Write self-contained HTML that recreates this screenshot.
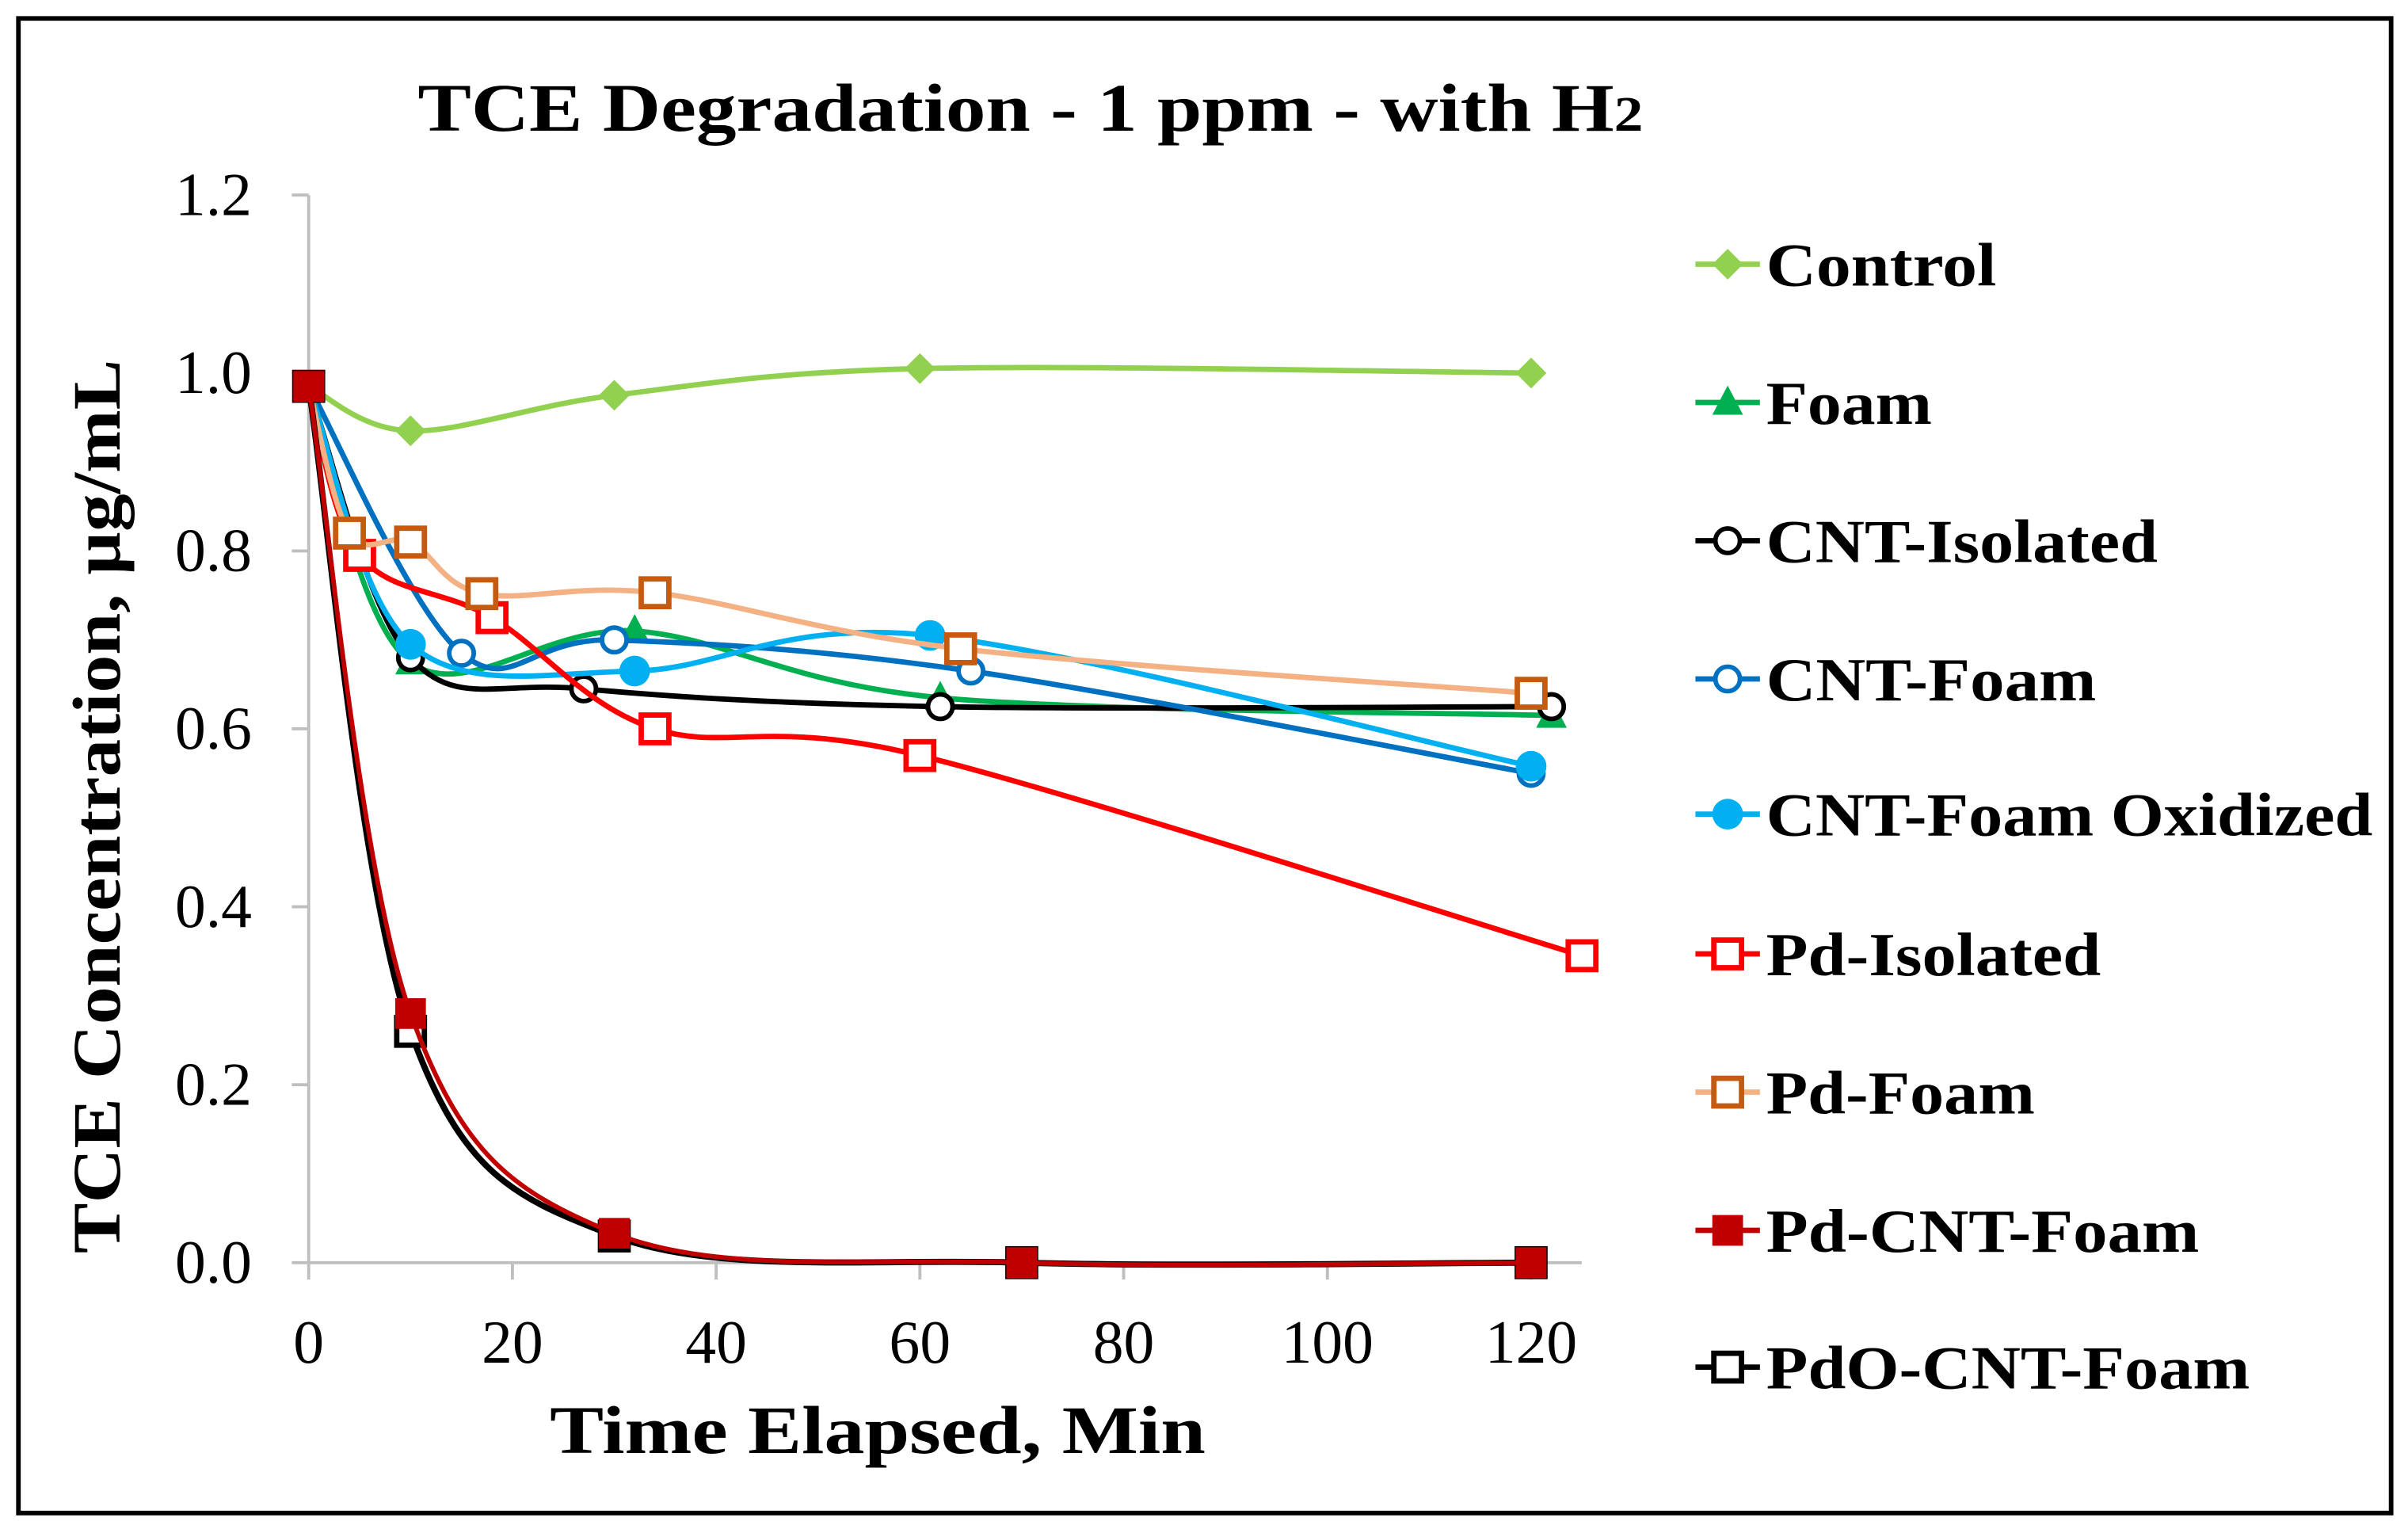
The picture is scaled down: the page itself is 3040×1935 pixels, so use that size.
<!DOCTYPE html>
<html><head><meta charset="utf-8"><style>
html,body{margin:0;padding:0;background:#fff}
svg{display:block}
text{font-family:"Liberation Serif",serif}
</style></head><body>
<svg id="chart" width="3040" height="1935" viewBox="0 0 1568 998" preserveAspectRatio="none" xmlns="http://www.w3.org/2000/svg">
<rect x="12" y="12" width="1545" height="973" fill="#fff" stroke="#000" stroke-width="3"/>
<text x="272" y="85" font-size="44" font-weight="bold" textLength="798" lengthAdjust="spacingAndGlyphs">TCE Degradation - 1 ppm - with H<tspan font-size="32">2</tspan></text>
<text transform="translate(78,525) rotate(-90)" text-anchor="middle" font-size="44" font-weight="bold" textLength="582" lengthAdjust="spacingAndGlyphs">TCE Concentration, µg/mL</text>
<text x="358" y="946" font-size="44" font-weight="bold" textLength="427" lengthAdjust="spacingAndGlyphs">Time Elapsed, Min</text>
<g id="axes"></g>
<g id="series"></g>
<g id="legend"></g>
</svg>
<script>
const xTicks=[0,20,40,60,80,100,120];
const yTicks=[0,0.2,0.4,0.6,0.8,1.0,1.2];
const yTickLabels=["0.0","0.2","0.4","0.6","0.8","1.0","1.2"];
const seriesNames=["Control","Foam","CNT-Isolated","CNT-Foam","CNT-Foam Oxidized","Pd-Isolated","Pd-Foam","Pd-CNT-Foam","PdO-CNT-Foam"];
const legendWidths=[150,108,255,215,395,218,175,282,315];
const controlT=[0,10,30,60,120], controlV=[0.985,0.935,0.975,1.005,1.0];
const foamT=[0,10,32,62,122], foamV=[0.985,0.675,0.71,0.635,0.615];
const cntIsoT=[0,10,27,62,122], cntIsoV=[0.985,0.68,0.645,0.625,0.625];
const cntFoamT=[0,15,30,65,120], cntFoamV=[0.985,0.685,0.70,0.665,0.55];
const cntOxT=[0,10,32,61,120], cntOxV=[0.985,0.695,0.665,0.705,0.558];
const pdIsoT=[0,5,18,34,60,125], pdIsoV=[0.985,0.795,0.725,0.60,0.57,0.345];
const pdFoamT=[0,4,10,17,34,64,120], pdFoamV=[0.985,0.82,0.81,0.752,0.753,0.69,0.64];
const pdCntT=[0,10,30,70,120], pdCntV=[0.985,0.28,0.033,0,0];
const pdoCntT=[0,10,30,70,120], pdoCntV=[0.985,0.26,0.03,0,0];

const NS="http://www.w3.org/2000/svg";
const X=t=>201+t*(997-201)/120;
const Y=v=>822-v*(822-127)/1.2;
function mk(tag,attrs,parent){const e=document.createElementNS(NS,tag);for(const k in attrs)e.setAttribute(k,attrs[k]);parent.appendChild(e);return e;}
const axes=document.getElementById('axes');
let e=mk('line',{x1:201,y1:127,x2:201,y2:822,stroke:'#bfbfbf','stroke-width':2},axes);


e=mk('line',{x1:201,y1:822,x2:1030,y2:822,stroke:'#bfbfbf','stroke-width':2},axes);


yTicks.forEach((v,i)=>{
  let t=mk('line',{x1:190,y1:Y(v),x2:201,y2:Y(v),stroke:'#bfbfbf','stroke-width':2},axes);
  
  
  let l=mk('text',{x:164,y:Y(v)+13,'text-anchor':'end','font-size':40},axes);l.textContent=yTickLabels[i];
  
  
});
xTicks.forEach(v=>{
  let t=mk('line',{x1:X(v),y1:822,x2:X(v),y2:833,stroke:'#bfbfbf','stroke-width':2},axes);
  
  
  let l=mk('text',{x:X(v),y:887,'text-anchor':'middle','font-size':40},axes);l.textContent=String(v);
  
  
});
function smooth(pts){
  let d=`M${pts[0][0]},${pts[0][1]}`;
  for(let i=0;i<pts.length-1;i++){
    const p0=pts[Math.max(0,i-1)],p1=pts[i],p2=pts[i+1],p3=pts[Math.min(pts.length-1,i+2)];
    const k=1/6;
    const c1=[p1[0]+(p2[0]-p0[0])*k,p1[1]+(p2[1]-p0[1])*k];
    const c2=[p2[0]-(p3[0]-p1[0])*k,p2[1]-(p3[1]-p1[1])*k];
    d+=` C${c1[0]},${c1[1]} ${c2[0]},${c2[1]} ${p2[0]},${p2[1]}`;
  }
  return d;
}
function marker(g,type,x,y,color){
  let m;
  if(type==='diamond') m=mk('polygon',{points:`${x},${y-10} ${x+10},${y} ${x},${y+10} ${x-10},${y}`,fill:color},g);
  else if(type==='tri') m=mk('polygon',{points:`${x},${y-11} ${x+10},${y+8} ${x-10},${y+8}`,fill:color},g);
  else if(type==='circ') m=mk('circle',{cx:x,cy:y,r:8,fill:'#fff',stroke:color,'stroke-width':3},g);
  else if(type==='dot') m=mk('circle',{cx:x,cy:y,r:10,fill:color},g);
  else if(type==='sq') m=mk('rect',{x:x-9,y:y-9,width:18,height:18,fill:'#fff',stroke:color,'stroke-width':3.5},g);
  else if(type==='fsq') m=mk('rect',{x:x-9,y:y-9,width:18,height:18,fill:color,stroke:color,'stroke-width':2},g);
  return m;
}
const defs=[
 {t:controlT,v:controlV,line:'#92d050',mc:'#92d050',m:'diamond',w:3.5},
 {t:foamT,v:foamV,line:'#00b050',mc:'#00b050',m:'tri',w:3.5},
 {t:cntIsoT,v:cntIsoV,line:'#000',mc:'#000',m:'circ',w:3.5},
 {t:cntFoamT,v:cntFoamV,line:'#0070c0',mc:'#0070c0',m:'circ',w:3.5},
 {t:cntOxT,v:cntOxV,line:'#00b0f0',mc:'#00b0f0',m:'dot',w:3.5},
 {t:pdIsoT,v:pdIsoV,line:'#ff0000',mc:'#ff0000',m:'sq',w:3.5},
 {t:pdFoamT,v:pdFoamV,line:'#f4b183',mc:'#c55a11',m:'sq',w:3.5},
 {t:pdoCntT,v:pdoCntV,line:'#000',mc:'#000',m:'sq',w:4},
 {t:pdCntT,v:pdCntV,line:'#c00000',mc:'#c00000',m:'fsq',w:3},
];
const order=[0,1,2,3,4,5,6,8,7];
const sg=document.getElementById('series');
const lg=document.getElementById('legend');
const legY=[172,262,352,442,530,621,711,801,890];
defs.forEach((s,i)=>{
  const idx=order[i];
  const g=mk('g',{},sg);
  
  
  const pts=s.t.map((t,j)=>[X(t),Y(s.v[j])]);
  mk('path',{d:smooth(pts),fill:'none',stroke:s.line,'stroke-width':s.w},g);
  pts.forEach(p=>{const m=marker(g,s.m,p[0],p[1],s.mc);
    
    });
  const le=mk('g',{},lg);
  
  
  mk('line',{x1:1104,y1:legY[idx],x2:1146,y2:legY[idx],stroke:s.line,'stroke-width':3.5},le);
  marker(le,s.m,1125,legY[idx],s.mc);
  const tx=mk('text',{x:1150,y:legY[idx]+14,'font-size':40,'font-weight':'bold',textLength:legendWidths[idx],lengthAdjust:'spacingAndGlyphs'},le);
  tx.textContent=seriesNames[idx];
});
</script>
</body></html>
